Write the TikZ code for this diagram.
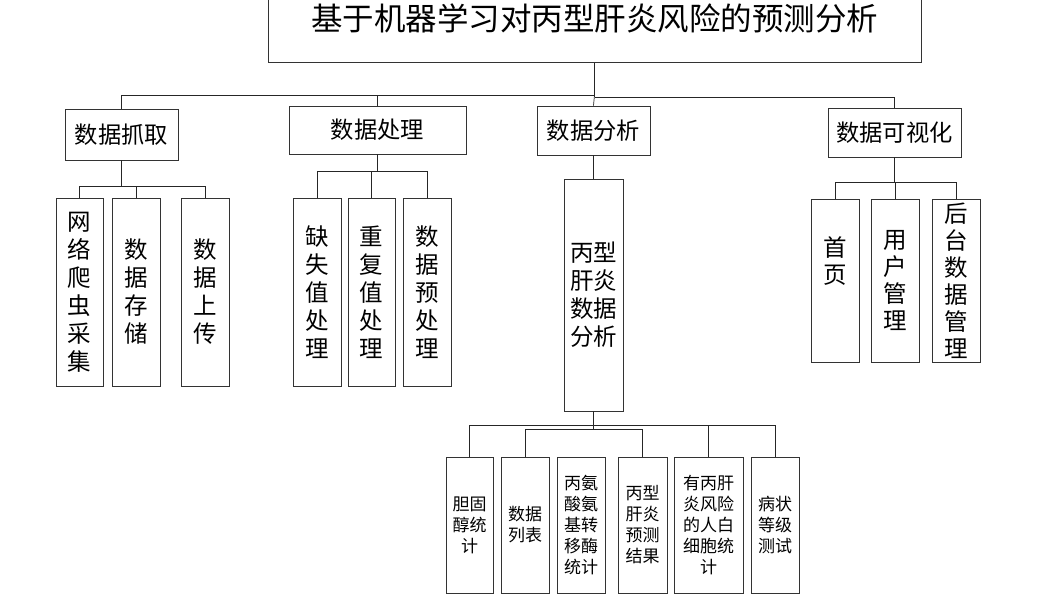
\documentclass[tikz,border=0pt]{standalone}
\usepackage{fontspec}
\setmainfont{Noto Sans CJK SC}
\begin{document}
\begin{tikzpicture}[x=1pt,y=-1pt,
  box/.style={draw=black!80,line width=0.8pt,inner sep=0pt,align=center,fill=white},
  conn/.style={draw=black!85,line width=0.7pt},
  ttl/.style={font=\fontsize{31.5}{34}\selectfont},
  lvone/.style={font=\fontsize{23.3}{26}\selectfont},
  lvtwo/.style={font=\fontsize{23.5}{28}\selectfont},
  lvv/.style={font=\fontsize{23.5}{27}\selectfont},
  lvb/.style={font=\fontsize{17}{21}\selectfont}]
\useasboundingbox (0,0) rectangle (1058,600);
% title
\node[box,minimum width=653pt,minimum height=66pt,anchor=north] (title) at (594.5,-4) {};
\node[ttl] (titletext) at (594.5,18) {基于机器学习对丙型肝炎风险的预测分析};
% level 1
\node[box,lvone,minimum width=113pt,minimum height=51pt] (grab) at (121.5,134.5) {数据抓取};
\node[box,lvone,minimum width=177pt,minimum height=48pt] (proc) at (377.5,130) {数据处理};
\node[box,lvone,minimum width=113pt,minimum height=49pt] (anal) at (593.5,130.5) {数据分析};
\node[box,lvone,minimum width=133pt,minimum height=49pt] (vis) at (894.5,132.5) {数据可视化};
% level 2 grab
\node[box,lvtwo,minimum width=47pt,minimum height=188pt] (g1) at (79.5,292) {网\\络\\爬\\虫\\采\\集};
\node[box,lvtwo,minimum width=48pt,minimum height=188pt] (g2) at (136,292) {数\\据\\存\\储};
\node[box,lvtwo,minimum width=48pt,minimum height=188pt] (g3) at (205,292) {数\\据\\上\\传};
% level 2 proc
\node[box,lvtwo,minimum width=48pt,minimum height=188pt] (p1) at (317,292) {缺\\失\\值\\处\\理};
\node[box,lvtwo,minimum width=47pt,minimum height=188pt] (p2) at (371.5,292) {重\\复\\值\\处\\理};
\node[box,lvtwo,minimum width=48pt,minimum height=188pt] (p3) at (427,292) {数\\据\\预\\处\\理};
% level 2 anal
\node[box,lvtwo,minimum width=59pt,minimum height=232pt] (a1) at (593.5,295) {丙型\\肝炎\\数据\\分析};
% level 2 vis
\node[box,lvv,minimum width=48pt,minimum height=163pt] (v1) at (835,280.5) {首\\页\\[14pt]};
\node[box,lvv,minimum width=48pt,minimum height=163pt] (v2) at (895,280.5) {用\\户\\管\\理};
\node[box,lvv,minimum width=48pt,minimum height=163pt] (v3) at (956,280.5) {后\\台\\数\\据\\管\\理};
% level 3
\node[box,lvb,minimum width=47pt,minimum height=136pt] (b1) at (469.5,525) {胆固\\醇统\\计};
\node[box,lvb,minimum width=48pt,minimum height=136pt] (b2) at (525,525) {数据\\列表};
\node[box,lvb,minimum width=48pt,minimum height=136pt] (b3) at (581,525) {丙氨\\酸氨\\基转\\移酶\\统计};
\node[box,lvb,minimum width=49pt,minimum height=136pt] (b4) at (642.5,525) {丙型\\肝炎\\预测\\结果};
\node[box,lvb,minimum width=69pt,minimum height=136pt] (b5) at (708.5,525) {有丙肝\\炎风险\\的人白\\细胞统\\计};
\node[box,lvb,minimum width=48pt,minimum height=136pt] (b6) at (775,525) {病状\\等级\\测试};
% bus coordinates
\coordinate (busL) at (594.5,95);
\coordinate (busR) at (594.5,97);
\coordinate (gbus) at (121.5,186);
\coordinate (pbus) at (377.5,171);
\coordinate (vbus) at (894.5,182);
\coordinate (bbusA) at (593.5,425);
\coordinate (bbusB) at (593.5,429);
% connectors
\draw[conn] (title.south) -- (busR);
\draw[conn] (grab.north) |- (busL);
\draw[conn] (proc.north) |- (busL);
\draw[conn] (anal.north) -- (busL);
\draw[conn] (vis.north) |- (busR);
\draw[conn] (grab.south) -- (gbus);
\draw[conn] (g1.north) |- (gbus);
\draw[conn] (g2.north) |- (gbus);
\draw[conn] (g3.north) |- (gbus);
\draw[conn] (proc.south) -- (pbus);
\draw[conn] (p1.north) |- (pbus);
\draw[conn] (p2.north) |- (pbus);
\draw[conn] (p3.north) |- (pbus);
\draw[conn] (anal.south) -- (a1.north);
\draw[conn] (vis.south) -- (vbus);
\draw[conn] (v1.north) |- (vbus);
\draw[conn] (v2.north) |- (vbus);
\draw[conn] (v3.north) |- (vbus);
\draw[conn] (a1.south) -- (bbusB);
\draw[conn] (b1.north) |- (bbusA);
\draw[conn] (b5.north) |- (bbusA);
\draw[conn] (b6.north) |- (bbusA);
\draw[conn] (b2.north) |- (bbusB);
\draw[conn] (b4.north) |- (bbusB);
\end{tikzpicture}
\end{document}
